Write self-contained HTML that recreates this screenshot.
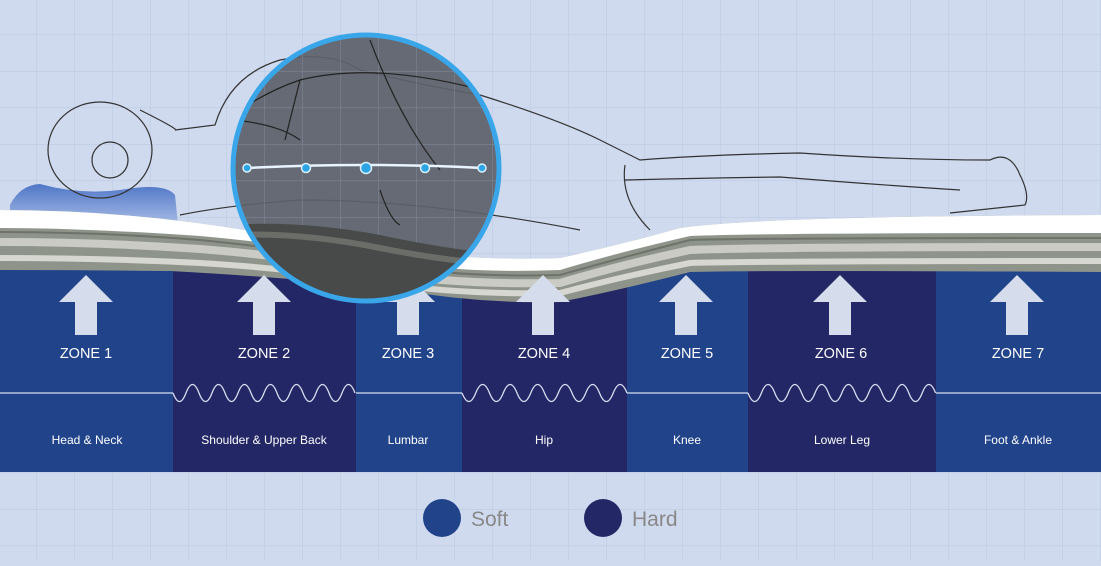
<!DOCTYPE html>
<html><head><meta charset="utf-8"><style>
body{margin:0;width:1101px;height:561px;overflow:hidden;background:#cfdaee;font-family:"Liberation Sans",sans-serif}
</style></head><body>
<svg width="1101" height="561" viewBox="0 0 1101 561" xmlns="http://www.w3.org/2000/svg">
<defs>
<pattern id="g" width="38" height="36.5" patternUnits="userSpaceOnUse" x="-2" y="-2"><path d="M0 0H38M0 0V36.5" stroke="#bccbe5" stroke-width="1.2" fill="none"/></pattern>
<linearGradient id="pil" x1="0" y1="0" x2="0" y2="1"><stop offset="0" stop-color="#4f76c6"/><stop offset="1" stop-color="#a9bde6"/></linearGradient>
<clipPath id="cc"><circle cx="366" cy="168" r="133"/></clipPath>
</defs>
<rect width="1101" height="561" fill="#cfdaee"/>
<rect width="1101" height="561" fill="url(#g)"/>
<g>
<rect x="0" y="268" width="173" height="204" fill="#21438a"/>
<rect x="173" y="268" width="183" height="204" fill="#232766"/>
<rect x="356" y="268" width="106" height="204" fill="#21438a"/>
<rect x="462" y="268" width="165" height="204" fill="#232766"/>
<rect x="627" y="268" width="121" height="204" fill="#21438a"/>
<rect x="748" y="268" width="188" height="204" fill="#232766"/>
<rect x="936" y="268" width="165" height="204" fill="#21438a"/>
</g>
<path d="M10 205 Q20 185 40 184 Q80 195 120 190 Q165 182 175 195 L178 225 L10 225Z" fill="url(#pil)"/>
<g fill="none" stroke="#333" stroke-width="1.2">
<ellipse cx="100" cy="150" rx="52" ry="48"/>
<circle cx="110" cy="160" r="18"/>
<path d="M140 110 Q180 130 175 130 L215 125 Q230 75 280 60 Q330 50 360 70 Q420 85 480 95 Q560 120 600 140 L640 160 Q700 155 800 153 Q900 160 990 160 Q1010 150 1020 175 Q1030 195 1025 205 L950 213"/>
<path d="M625 180 Q700 178 780 177 Q880 185 960 190"/>
<path d="M180 215 Q230 205 300 200 Q380 200 470 212 Q530 220 580 230"/>
<path d="M625 165 Q620 200 650 230"/>
</g>
<path d="M0 210 Q150 210 300 240 Q450 262 560 258 Q620 245 680 228 Q760 216 1101 215 L1101 272 Q760 270 690 272 Q620 290 560 302 Q480 304 400 290 Q300 278 170 271 Q80 270 0 270Z" fill="#8f948a"/>
<path d="M0 210 Q150 210 300 240 Q450 262 560 258 Q620 245 680 228 Q760 216 1101 215 L1101 233 Q760 233 690 236 Q620 252 560 270 Q460 274 380 260 Q300 245 200 236 Q80 228 0 228Z" fill="#fff"/>
<path d="M0 242 Q100 242 200 249 Q300 257 380 273 Q460 285 560 283 Q620 265 690 250 Q760 247 1101 247" stroke="#c9cbc4" stroke-width="8" fill="none"/>
<path d="M0 258 Q100 258 200 263 Q300 269 380 283 Q460 295 560 293 Q620 277 690 263 Q760 261 1101 261" stroke="#d6d7d0" stroke-width="6" fill="none"/>
<path d="M0 232 Q100 232 200 240 Q300 250 380 264 Q460 278 560 275 Q620 258 690 240 Q760 238 1101 238" stroke="#6e7269" stroke-width="2" fill="none"/>
<g fill="#d5dcec">
<path d="M86 275 L113 302 L97 302 L97 335 L75 335 L75 302 L59 302Z"/>
<path d="M264 275 L291 302 L275 302 L275 335 L253 335 L253 302 L237 302Z"/>
<path d="M408 275 L435 302 L419 302 L419 335 L397 335 L397 302 L381 302Z"/>
<path d="M543 275 L570 302 L554 302 L554 335 L532 335 L532 302 L516 302Z"/>
<path d="M686 275 L713 302 L697 302 L697 335 L675 335 L675 302 L659 302Z"/>
<path d="M840 275 L867 302 L851 302 L851 335 L829 335 L829 302 L813 302Z"/>
<path d="M1017 275 L1044 302 L1028 302 L1028 335 L1006 335 L1006 302 L990 302Z"/>
</g>
<g clip-path="url(#cc)">
<rect x="230" y="30" width="280" height="280" fill="#5c616a" opacity="0.93"/>
<rect x="230" y="30" width="280" height="280" fill="url(#g)" opacity="0.3"/>
<path d="M230 225 Q300 220 380 235 Q450 250 510 255 L510 310 L230 310Z" fill="#474a48"/>
<path d="M230 235 Q300 232 380 248 Q450 262 510 265" stroke="#6a6d68" stroke-width="6" fill="none"/>
<g fill="none" stroke="#222" stroke-width="1.2">
<path d="M240 110 Q270 90 300 80 Q380 60 500 95"/>
<path d="M300 80 Q290 120 285 140"/>
<path d="M370 40 Q400 120 440 170"/>
<path d="M235 120 Q280 125 300 140"/>
<path d="M380 190 Q390 220 400 225"/>
</g>
<path d="M247 168 Q366 162 482 168" stroke="#e8f4ff" stroke-width="2.5" fill="none"/>
<g fill="#2da4e4" stroke="#d9f0ff" stroke-width="1.5">
<circle cx="247" cy="168" r="4"/><circle cx="306" cy="168" r="4.5"/><circle cx="366" cy="168" r="5.5"/><circle cx="425" cy="168" r="4.5"/><circle cx="482" cy="168" r="4"/>
</g>
</g>
<circle cx="366" cy="168" r="133" fill="none" stroke="#3aa6ea" stroke-width="5"/>
<g stroke="#d8def0" stroke-width="1.3" fill="none">
<path d="M0 393H173"/><path d="M356 393H462"/><path d="M627 393H748"/><path d="M936 393H1101"/>
<path d="M173 393 q6.5 17 13 0 q6.5 -17 13 0 q6.5 17 13 0 q6.5 -17 13 0 q6.5 17 13 0 q6.5 -17 13 0 q6.5 17 13 0 q6.5 -17 13 0 q6.5 17 13 0 q6.5 -17 13 0 q6.5 17 13 0 q6.5 -17 13 0 q6.5 17 13 0 q6.5 -17 13 0"/>
<path d="M462 393 q6.9 17 13.75 0 q6.9 -17 13.75 0 q6.9 17 13.75 0 q6.9 -17 13.75 0 q6.9 17 13.75 0 q6.9 -17 13.75 0 q6.9 17 13.75 0 q6.9 -17 13.75 0 q6.9 17 13.75 0 q6.9 -17 13.75 0 q6.9 17 13.75 0 q6.9 -17 13.75 0"/>
<path d="M748 393 q6.7 17 13.4 0 q6.7 -17 13.4 0 q6.7 17 13.4 0 q6.7 -17 13.4 0 q6.7 17 13.4 0 q6.7 -17 13.4 0 q6.7 17 13.4 0 q6.7 -17 13.4 0 q6.7 17 13.4 0 q6.7 -17 13.4 0 q6.7 17 13.4 0 q6.7 -17 13.4 0 q6.7 17 13.4 0 q6.7 -17 13.4 0"/>
</g>
<g fill="#fff" font-size="14.5" text-anchor="middle">
<text x="86" y="358">ZONE 1</text><text x="264" y="358">ZONE 2</text><text x="408" y="358">ZONE 3</text><text x="544" y="358">ZONE 4</text><text x="687" y="358">ZONE 5</text><text x="841" y="358">ZONE 6</text><text x="1018" y="358">ZONE 7</text>
</g>
<g fill="#fff" font-size="12" text-anchor="middle">
<text x="87" y="444">Head &amp; Neck</text><text x="264" y="444">Shoulder &amp; Upper Back</text><text x="408" y="444">Lumbar</text><text x="544" y="444">Hip</text><text x="687" y="444">Knee</text><text x="842" y="444">Lower Leg</text><text x="1018" y="444">Foot &amp; Ankle</text>
</g>
<circle cx="442" cy="518" r="19" fill="#21438a"/>
<text x="471" y="526" font-size="21" fill="#888">Soft</text>
<circle cx="603" cy="518" r="19" fill="#232766"/>
<text x="632" y="526" font-size="21" fill="#888">Hard</text>
</svg>
</body></html>
